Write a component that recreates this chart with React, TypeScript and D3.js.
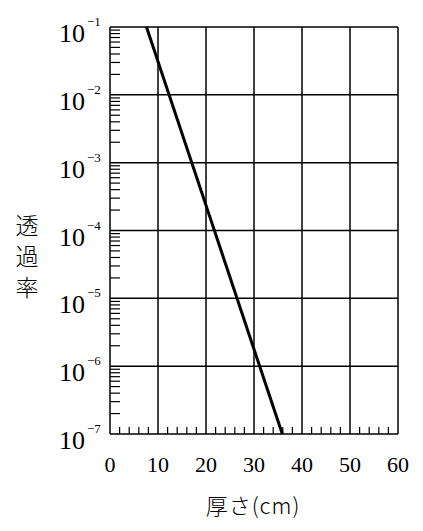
import React from 'react';
import * as d3 from 'd3';

// thickness (cm) vs transmission, straight line on a log scale
const lineX = [7.6, 35.9];
const lineY = [1e-1, 1e-7];

const xTicks = [0, 10, 20, 30, 40, 50, 60];
const xMinorTicks = d3.range(0, 60, 2).filter((v) => v % 10 !== 0);
const decadeExps = [-1, -2, -3, -4, -5, -6, -7];
const minorMults = [2, 3, 4, 5, 6, 7, 8, 9];

const yTitle = ['透', '過', '率'];
const xTitle = '厚さ(cm)';

const width = 423;
const height = 531;

const App: React.FC = () => {
  const x = d3.scaleLinear().domain([0, 60]).range([110, 398]);
  const y = d3.scaleLog().domain([1e-7, 1e-1]).range([434, 27]);

  const line = d3
    .line<number>()
    .x((d) => x(d))
    .y((_, i) => y(lineY[i]));

  const minorY: number[] = [];
  decadeExps.slice(1).forEach((e) => {
    minorMults.forEach((m) => minorY.push(m * Math.pow(10, e)));
  });

  const serif = '"Liberation Serif", "DejaVu Serif", serif';
  const cjk = '"Noto Sans CJK JP", sans-serif';

  return (
    <svg
      width={width}
      height={height}
      style={{ position: 'absolute', left: 0, top: 0, background: '#fff' }}
    >
      {/* vertical grid */}
      {xTicks.map((t) => (
        <line key={'gx' + t} x1={x(t)} x2={x(t)} y1={y(1e-1)} y2={y(1e-7)} stroke='#000' strokeWidth={1.5} />
      ))}
      {/* horizontal grid */}
      {decadeExps.map((e) => (
        <line key={'gy' + e} x1={x(0)} x2={x(60)} y1={y(Math.pow(10, e))} y2={y(Math.pow(10, e))} stroke='#000' strokeWidth={1.5} />
      ))}
      {/* minor y ticks */}
      {minorY.map((v, i) => (
        <line key={'my' + i} x1={x(0)} x2={x(0) + 10} y1={y(v)} y2={y(v)} stroke='#000' strokeWidth={1.2} />
      ))}
      {/* minor x ticks */}
      {xMinorTicks.map((t) => (
        <line key={'mx' + t} x1={x(t)} x2={x(t)} y1={y(1e-7)} y2={y(1e-7) - 7} stroke='#000' strokeWidth={1.2} />
      ))}

      <path d={line(lineX) || ''} fill='none' stroke='#000' strokeWidth={3} />

      {/* y tick labels */}
      {decadeExps.map((e) => {
        const gy = y(Math.pow(10, e));
        return (
          <g key={'ly' + e} fontFamily={serif}>
            <text x={85} y={gy + 15} textAnchor='end' fontSize={26}>10</text>
            <text x={87} y={gy - 1} fontSize={13}>{'\u2212' + Math.abs(e)}</text>
          </g>
        );
      })}

      {/* x tick labels */}
      {xTicks.map((t) => (
        <text key={'lx' + t} x={x(t)} y={472} textAnchor='middle' fontFamily={serif} fontSize={22}>
          {t}
        </text>
      ))}

      {/* axis titles */}
      <text x={253} y={514} textAnchor='middle' fontFamily={cjk} fontWeight={300} fontSize={22} letterSpacing={1}>
        {xTitle}
      </text>
      {yTitle.map((c, i) => (
        <text key={c} x={27} y={234 + i * 31} textAnchor='middle' fontFamily={cjk} fontWeight={300} fontSize={23}>
          {c}
        </text>
      ))}
    </svg>
  );
};

export default App;
